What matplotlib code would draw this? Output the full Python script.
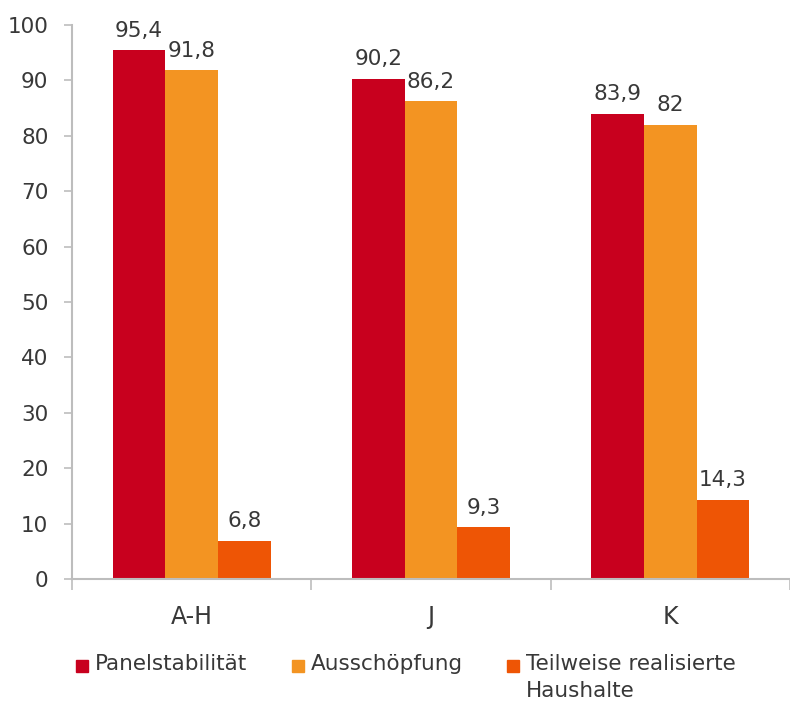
import numpy as np
import matplotlib.pyplot as plt
from matplotlib.patches import Rectangle

categories = ["A-H", "J", "K"]
series = ["Panelstabilität", "Ausschöpfung", "Teilweise realisierte\nHaushalte"]
panel = [95.4, 90.2, 83.9]
ausschoepfung = [91.8, 86.2, 82.0]
teilweise = [6.8, 9.3, 14.3]

colors = ["#C8001E", "#F39422", "#EE5505"]
text_col = "#383838"
axis_col = "#BDBDBD"

plt.rcParams["font.family"] = ["DejaVu Sans"]

W, H = 790, 702
fig = plt.figure(figsize=(W / 100, H / 100), dpi=100)
ax = fig.add_axes([72 / W, 1 - 579 / H, 1 - 72 / W, (579 - 25) / H])

x = np.arange(len(categories))
w = 0.22
for i, vals in enumerate([panel, ausschoepfung, teilweise]):
    pos = x + (i - 1) * w
    ax.bar(pos, vals, width=w, color=colors[i], zorder=2)
    for p, v in zip(pos, vals):
        lab = ("%g" % v).replace(".", ",")
        ax.annotate(lab, (p, v), xytext=(0, 10), textcoords="offset points",
                    ha="center", va="baseline", fontsize=15.5, color=text_col)

ax.set_ylim(0, 100)
ax.set_xlim(-0.5, -0.5 + (W - 72) / 241.5)
ax.set_yticks(range(0, 101, 10))
ax.tick_params(axis="y", colors=axis_col, labelcolor=text_col, labelsize=15.5,
               length=6, width=1.2, pad=11)

# tick marks at the group boundaries, names centred in between
ax.set_xticks([-0.5, 0.5, 1.5, 2.5])
ax.set_xticklabels([])
ax.set_xticks(x, minor=True)
ax.set_xticklabels(categories, minor=True, fontsize=17, color=text_col)
ax.tick_params(axis="x", which="major", colors=axis_col, length=8, width=1.2)
ax.tick_params(axis="x", which="minor", length=0, pad=19)

for s in ["top", "right"]:
    ax.spines[s].set_visible(False)
for s in ["left", "bottom"]:
    ax.spines[s].set_color(axis_col)
    ax.spines[s].set_linewidth(1.5)

# legend row: square marker plus label, first text line level with the marker
leg_x = [76, 292, 507]
leg_y = 666
sq = 12
for lx, name, c in zip(leg_x, series, colors):
    fig.patches.append(Rectangle((lx / W, 1 - (leg_y + sq / 2) / H), sq / W, sq / H,
                                 transform=fig.transFigure, color=c))
    fig.text((lx + sq + 7) / W, 1 - (leg_y - 12) / H, name, ha="left", va="top",
             fontsize=15.5, color=text_col, linespacing=1.45)

fig.savefig("out.png", dpi=100)
